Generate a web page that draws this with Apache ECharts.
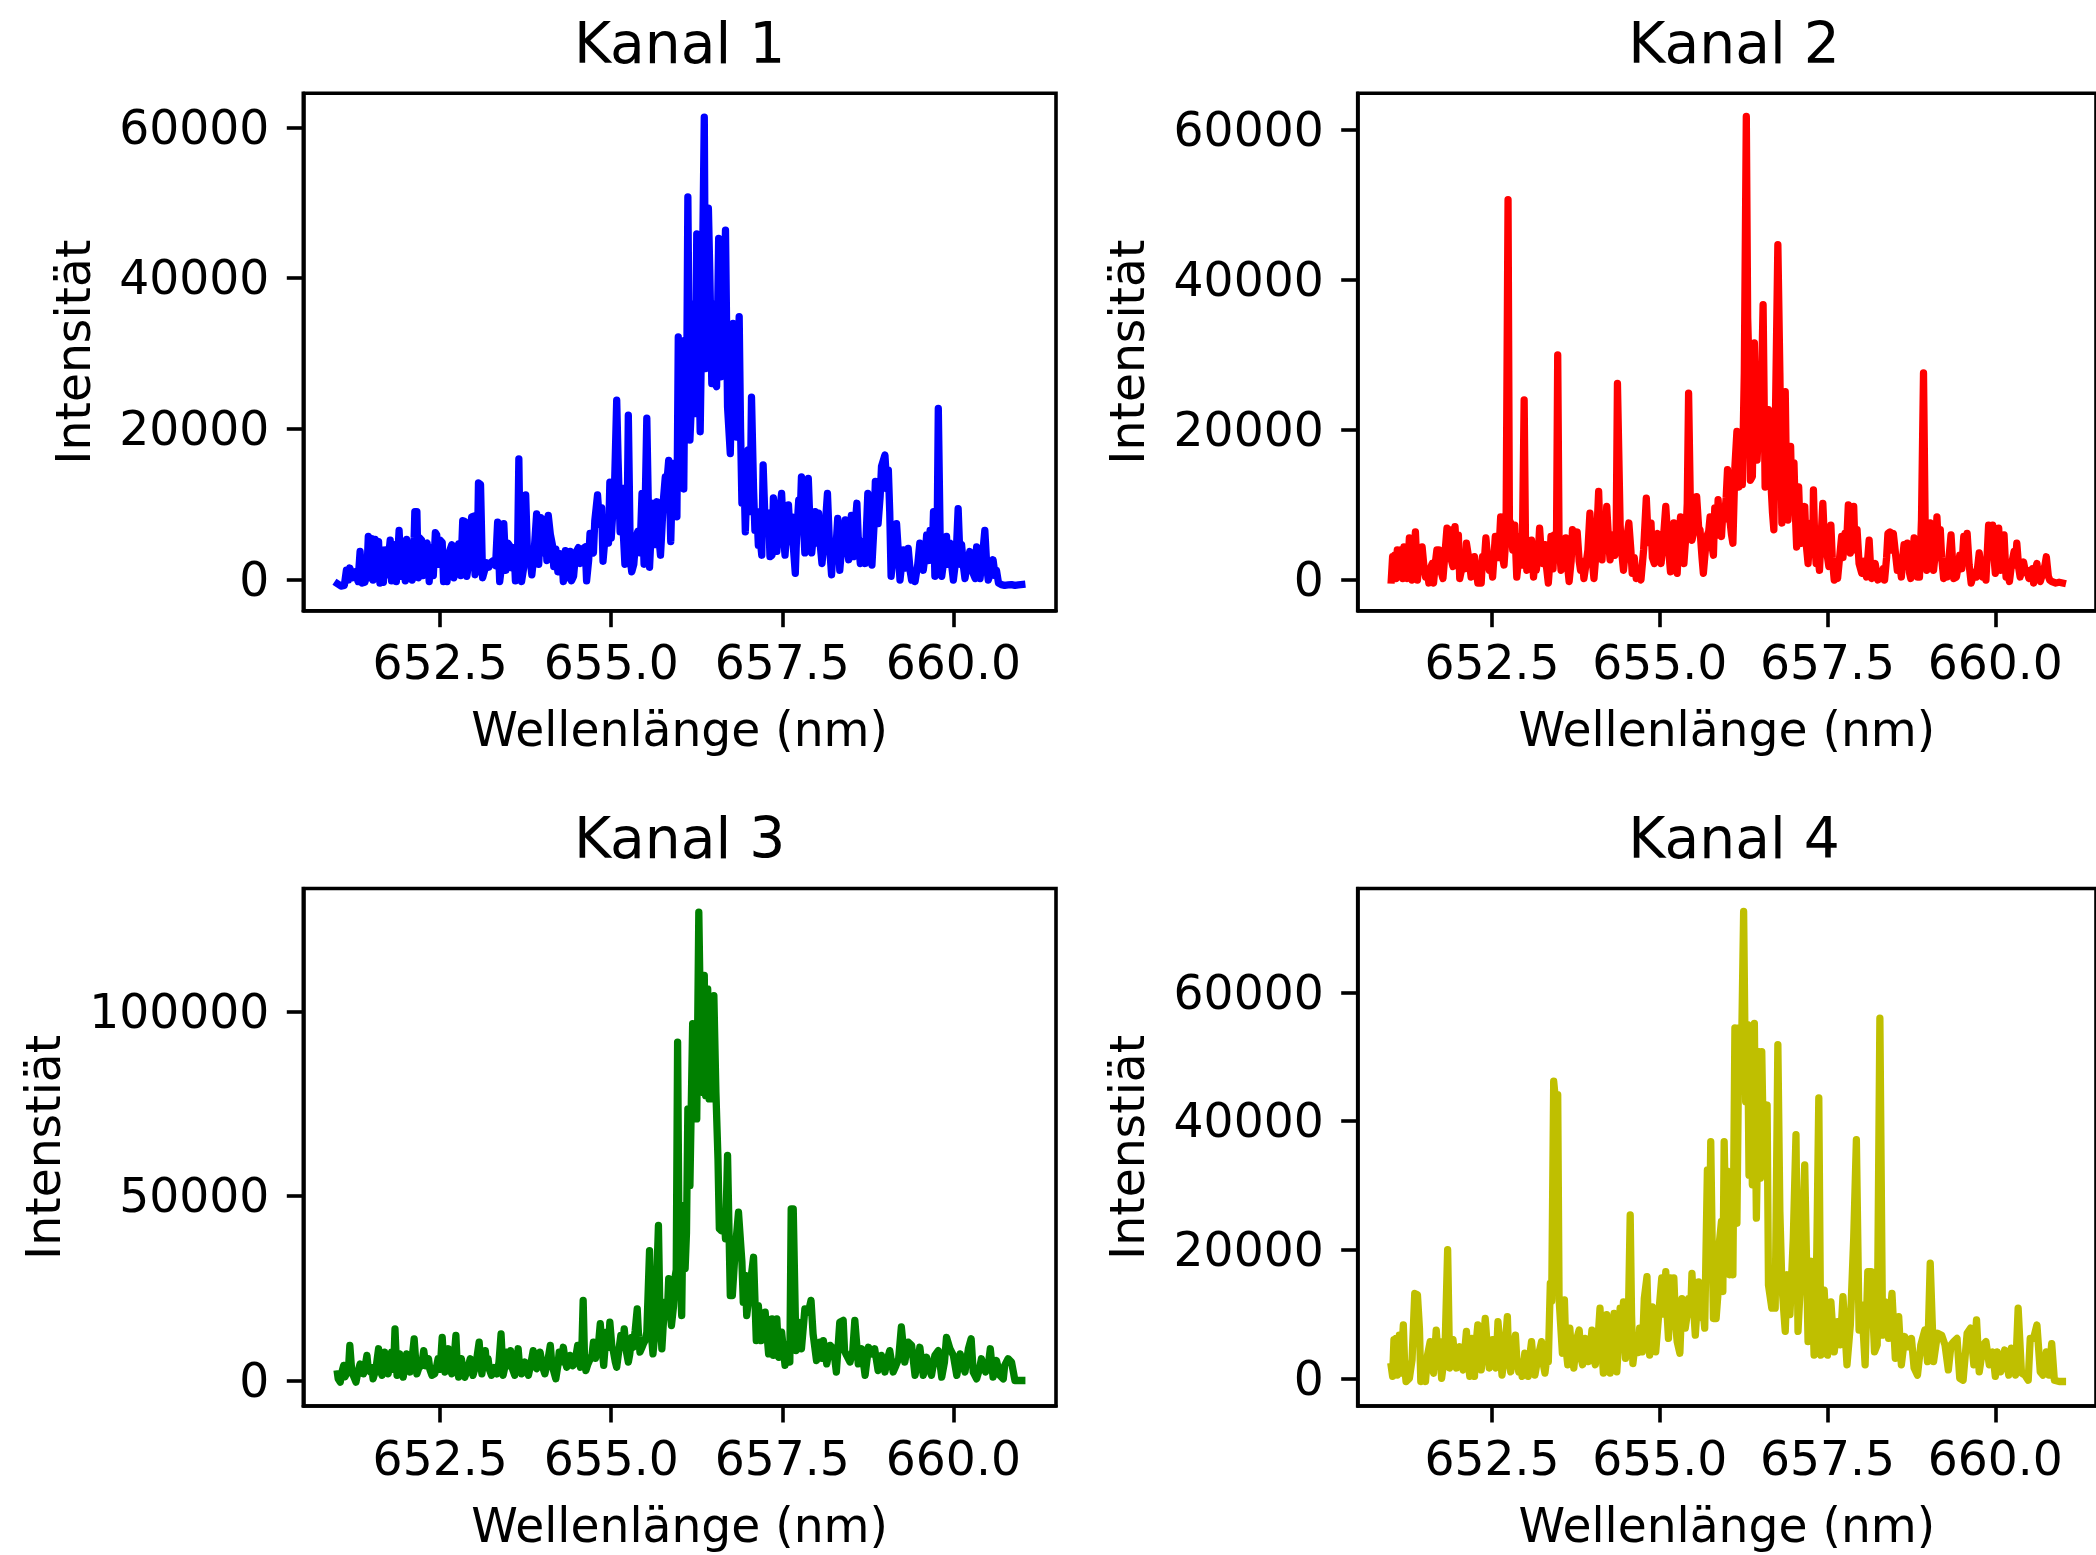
<!DOCTYPE html>
<html><head><meta charset="utf-8">
<script src="https://cdn.jsdelivr.net/npm/echarts@6/dist/echarts.min.js"></script>
<style>html,body{margin:0;padding:0;background:#fff}#c{width:2096px;height:1555px}</style>
</head><body><div id="c"></div>
<script>
// ---------- data ----------
const titles = ['Kanal 1', 'Kanal 2', 'Kanal 3', 'Kanal 4'];
const yNames = ['Intensität', 'Intensität', 'Intenstiät', 'Intenstiät'];
const xName = 'Wellenlänge (nm)';
const xTicks = [652.5, 655.0, 657.5, 660.0];
const yTicks1 = [0, 20000, 40000, 60000];
const yTicks2 = [0, 20000, 40000, 60000];
const yTicks3 = [0, 50000, 100000];
const yTicks4 = [0, 20000, 40000, 60000];

// [wavelength nm, intensity]
const kanal1 = [
[651.00,-600],[651.05,-900],[651.10,-800],[651.13,1200],[651.16,-100],[651.18,1500],[651.22,200],[651.26,1000],[651.30,-300],[651.33,3700],
[651.36,-500],[651.40,-400],[651.43,900],[651.45,5700],[651.48,200],[651.50,5400],[651.52,-100],[651.55,5300],[651.58,500],[651.60,5000],
[651.62,-500],[651.65,3900],[651.67,-400],[651.70,3900],[651.72,600],[651.77,5200],[651.79,-200],[651.84,4600],[651.86,-300],[651.90,6500],
[651.93,400],[651.96,3400],[651.99,-200],[652.01,5300],[652.04,200],[652.06,4800],[652.09,-100],[652.12,5500],[652.13,9000],[652.16,9000],
[652.18,200],[652.20,5500],[652.23,5200],[652.25,500],[652.28,4600],[652.31,4800],[652.34,-300],[652.37,4200],[652.40,500],[652.43,6200],
[652.45,5900],[652.48,2000],[652.50,5200],[652.53,4900],[652.55,-300],[652.58,1000],[652.60,-300],[652.64,3800],[652.67,4600],[652.70,200],
[652.74,3500],[652.77,4700],[652.80,500],[652.83,7800],[652.86,7700],[652.89,400],[652.93,3000],[652.96,8300],[652.99,8400],[653.01,600],
[653.04,1500],[653.06,12800],[653.09,12600],[653.12,200],[653.15,1200],[653.18,2200],[653.21,1600],[653.25,2300],[653.28,2500],[653.31,1800],
[653.34,7600],[653.37,-300],[653.40,2000],[653.43,7400],[653.46,1200],[653.49,4800],[653.52,4400],[653.55,1500],[653.58,4200],[653.60,-200],
[653.63,2500],[653.65,16000],[653.67,3200],[653.69,-300],[653.72,1500],[653.75,11200],[653.78,2200],[653.81,3000],[653.84,600],[653.87,3200],
[653.91,8700],[653.94,2000],[653.97,8200],[654.00,3500],[654.03,8000],[654.06,2500],[654.08,8500],[654.11,6000],[654.14,4600],[654.16,1700],
[654.19,4000],[654.22,1000],[654.25,3400],[654.28,3000],[654.30,-300],[654.33,3800],[654.36,200],[654.40,3700],[654.42,-200],[654.45,400],
[654.48,3500],[654.52,4200],[654.55,2100],[654.59,4100],[654.62,4300],[654.64,-200],[654.67,2500],[654.69,6100],[654.72,4000],[654.74,3500],
[654.76,7800],[654.78,9500],[654.80,11200],[654.83,7300],[654.86,9500],[654.88,2400],[654.91,5600],[654.93,6300],[654.96,4800],[654.98,12900],
[655.00,5500],[655.05,12900],[655.08,23800],[655.10,16000],[655.13,6300],[655.16,12100],[655.18,5500],[655.20,2000],[655.23,6000],[655.25,21800],
[655.28,2500],[655.30,1000],[655.33,2000],[655.36,5500],[655.39,6400],[655.42,3500],[655.45,11400],[655.48,2000],[655.52,21400],[655.54,11000],
[655.56,1600],[655.59,7500],[655.62,10100],[655.64,4600],[655.67,10300],[655.70,5200],[655.72,3200],[655.74,6500],[655.76,10300],[655.79,13600],
[655.81,12500],[655.84,15800],[655.87,5000],[655.90,15400],[655.93,12000],[655.96,8300],[655.98,32200],[656.01,15000],[656.03,20700],[656.06,12000],
[656.08,31800],[656.10,22000],[656.12,50800],[656.15,18500],[656.18,25000],[656.20,36600],[656.23,22000],[656.25,45900],[656.28,30000],[656.30,19600],
[656.33,38400],[656.36,61400],[656.38,28000],[656.40,30400],[656.42,49300],[656.44,41100],[656.47,26000],[656.49,36600],[656.52,26000],[656.54,25600],
[656.57,45300],[656.60,26900],[656.62,40000],[656.64,34000],[656.67,46400],[656.70,22900],[656.74,16700],[656.76,26000],[656.78,34000],[656.81,24000],
[656.83,18900],[656.87,34900],[656.89,20000],[656.91,10100],[656.94,14000],[656.96,6300],[657.00,17200],[657.03,9000],[657.05,24200],[657.08,12000],
[657.10,6500],[657.13,9000],[657.15,4500],[657.17,5900],[657.20,3200],[657.22,15200],[657.25,7000],[657.27,6500],[657.30,8800],[657.32,3000],
[657.35,3200],[657.37,10800],[657.40,6000],[657.42,3700],[657.45,8000],[657.49,11400],[657.52,5500],[657.54,3200],[657.57,7000],[657.59,9900],
[657.62,5000],[657.64,8300],[657.66,4500],[657.69,800],[657.71,6000],[657.74,10500],[657.76,8000],[657.78,13600],[657.81,7000],[657.83,3500],
[657.86,8000],[657.88,13400],[657.91,6000],[657.93,3500],[657.96,6500],[657.98,9000],[658.00,4800],[658.03,8800],[658.05,5000],[658.08,2100],
[658.10,4000],[658.12,6100],[658.16,11400],[658.19,4500],[658.22,600],[658.25,5000],[658.28,3500],[658.31,8100],[658.34,1200],[658.37,4500],
[658.39,6000],[658.42,7900],[658.45,4000],[658.47,2600],[658.51,8500],[658.54,3000],[658.56,6500],[658.59,10100],[658.61,5500],[658.64,2100],
[658.67,5000],[658.71,2100],[658.75,11400],[658.78,6000],[658.81,1900],[658.84,7000],[658.86,13000],[658.90,7400],[658.93,11000],[658.95,15000],
[659.00,16500],[659.03,12000],[659.05,14500],[659.07,9000],[659.09,400],[659.12,3000],[659.15,4000],[659.17,7400],[659.20,3000],[659.22,-100],
[659.25,2500],[659.27,3900],[659.30,1500],[659.34,4100],[659.37,1000],[659.39,-100],[659.42,1000],[659.44,-300],[659.48,2000],[659.51,4800],
[659.54,2000],[659.56,1200],[659.59,3500],[659.61,5900],[659.64,2500],[659.66,6500],[659.69,3000],[659.71,9000],[659.73,400],[659.76,3000],
[659.78,22700],[659.81,3500],[659.83,400],[659.86,2500],[659.90,5700],[659.92,2000],[659.95,4800],[659.98,1500],[660.00,-100],[660.04,3000],
[660.07,9400],[660.10,2000],[660.12,4600],[660.15,1500],[660.17,100],[660.21,2500],[660.24,3700],[660.28,1000],[660.32,100],[660.34,4300],
[660.37,1500],[660.39,100],[660.43,3500],[660.46,6500],[660.49,1500],[660.51,-100],[660.55,1000],[660.58,2600],[660.61,500],[660.63,1200],
[660.66,-500],[660.70,-700],[660.75,-800],[660.80,-750],[660.85,-700],[660.90,-800],[660.95,-750],[661.00,-700]
];

const kanal2 = [
[651.00,0],[651.02,3100],[651.04,300],[651.05,3300],[651.07,200],[651.09,4000],[651.12,1500],[651.14,4000],[651.17,200],[651.19,4400],
[651.22,1000],[651.24,200],[651.27,5600],[651.29,1500],[651.31,0],[651.34,3000],[651.36,6400],[651.39,0],[651.41,3000],[651.44,2200],
[651.46,4400],[651.49,1500],[651.51,400],[651.54,1000],[651.56,-400],[651.58,1500],[651.61,2200],[651.63,-400],[651.66,2500],[651.68,4000],
[651.71,4000],[651.73,1500],[651.77,200],[651.80,3500],[651.83,6900],[651.85,4500],[651.87,6700],[651.90,2500],[651.92,1800],[651.95,7100],
[651.97,4000],[652.00,6000],[652.02,200],[652.05,1500],[652.07,3600],[652.10,1500],[652.12,4900],[652.14,4900],[652.17,2000],[652.19,400],
[652.22,1500],[652.24,3100],[652.27,1000],[652.29,-400],[652.34,-400],[652.36,3100],[652.39,3000],[652.41,5600],[652.44,2500],[652.46,1300],
[652.49,2000],[652.51,400],[652.55,5800],[652.58,5800],[652.60,3000],[652.63,8400],[652.65,3500],[652.68,2000],[652.71,6000],[652.74,50700],
[652.76,8000],[652.78,7600],[652.81,4000],[652.84,7300],[652.87,400],[652.90,3000],[652.92,5800],[652.95,2000],[652.98,24000],[653.00,5000],
[653.02,1300],[653.05,3000],[653.07,3500],[653.09,5300],[653.12,400],[653.14,2500],[653.16,1300],[653.19,3500],[653.21,6900],[653.24,3000],
[653.26,2200],[653.29,4700],[653.31,2000],[653.34,-400],[653.36,2000],[653.38,5800],[653.41,1500],[653.43,6000],[653.46,3000],[653.48,30000],
[653.50,5000],[653.53,1300],[653.56,2000],[653.60,5600],[653.62,2500],[653.65,-200],[653.68,2500],[653.70,6700],[653.73,4000],[653.77,6400],
[653.80,2500],[653.82,1300],[653.85,2500],[653.87,200],[653.90,2000],[653.93,4000],[653.96,8900],[653.99,3000],[654.02,200],[654.05,3500],
[654.09,11800],[654.11,6000],[654.14,2700],[654.16,7000],[654.19,4000],[654.21,9800],[654.24,5000],[654.26,2700],[654.30,6000],[654.33,3300],
[654.35,5000],[654.37,26200],[654.41,7300],[654.43,4000],[654.46,1300],[654.50,5000],[654.54,7600],[654.57,4000],[654.59,900],[654.62,3000],
[654.65,200],[654.69,1000],[654.72,0],[654.76,4000],[654.80,10900],[654.83,5000],[654.87,7600],[654.89,3000],[654.92,2200],[654.94,5000],
[654.97,6200],[654.99,3500],[655.02,2200],[655.05,5000],[655.09,9800],[655.12,5500],[655.16,1100],[655.18,4000],[655.21,7600],[655.23,4000],
[655.26,900],[655.28,5000],[655.31,8400],[655.34,4500],[655.36,2200],[655.39,6000],[655.41,10200],[655.43,24900],[655.46,8000],[655.48,5300],
[655.52,7000],[655.55,11100],[655.58,7000],[655.60,6700],[655.63,3000],[655.65,900],[655.68,4000],[655.70,5800],[655.73,6500],[655.75,8400],
[655.77,5000],[655.80,3300],[655.82,9600],[655.85,6000],[655.87,10700],[655.89,7000],[655.92,5800],[655.94,9000],[655.96,8000],[655.99,11000],
[656.01,14700],[656.03,9000],[656.05,7600],[656.07,6000],[656.09,4900],[656.12,15100],[656.15,19800],[656.18,12400],[656.21,14000],[656.23,12700],
[656.26,27600],[656.29,61800],[656.31,35000],[656.33,28400],[656.35,13300],[656.38,13800],[656.41,31600],[656.43,20000],[656.45,16000],[656.48,22000],
[656.50,18700],[656.54,36700],[656.57,12400],[656.60,20000],[656.62,22700],[656.66,12400],[656.68,9000],[656.70,6700],[656.72,6700],[656.76,44700],
[656.79,27600],[656.82,7600],[656.84,18000],[656.87,25100],[656.89,12000],[656.91,8000],[656.95,17800],[656.97,10000],[657.00,15600],[657.02,9000],
[657.04,4400],[657.07,12400],[657.09,7000],[657.11,4900],[657.13,8000],[657.16,9800],[657.18,5000],[657.21,2200],[657.23,5000],[657.26,7600],
[657.28,4000],[657.29,12000],[657.31,5000],[657.33,2200],[657.36,3000],[657.38,1300],[657.40,5000],[657.43,10200],[657.45,6000],[657.47,6200],
[657.50,3000],[657.52,1800],[657.55,7300],[657.57,3000],[657.60,0],[657.62,1500],[657.65,200],[657.68,3000],[657.71,5800],[657.73,3000],
[657.76,6200],[657.78,4000],[657.81,10000],[657.84,3600],[657.86,5000],[657.89,9800],[657.91,4000],[657.94,6700],[657.97,2200],[658.01,900],
[658.04,2500],[658.08,400],[658.10,3000],[658.12,5300],[658.14,2000],[658.16,200],[658.19,1500],[658.21,2200],[658.25,0],[658.28,1000],
[658.30,200],[658.33,1500],[658.35,0],[658.38,3000],[658.40,6200],[658.43,6400],[658.45,4000],[658.48,6200],[658.50,6200],[658.54,1300],
[658.57,2500],[658.60,400],[658.62,3000],[658.64,4700],[658.67,2000],[658.69,4900],[658.72,1000],[658.74,200],[658.77,3000],[658.79,5600],
[658.82,2000],[658.84,400],[658.87,400],[658.90,8000],[658.93,27600],[658.96,3000],[658.98,1300],[659.01,4000],[659.03,7600],[659.06,3000],
[659.08,1300],[659.11,4000],[659.13,8400],[659.16,3000],[659.18,6700],[659.20,3000],[659.23,200],[659.25,2000],[659.28,400],[659.31,3000],
[659.34,6000],[659.36,3000],[659.38,200],[659.42,400],[659.45,2000],[659.47,3300],[659.50,1500],[659.53,5800],[659.55,3000],[659.58,6200],
[659.61,2000],[659.64,-400],[659.68,1000],[659.72,400],[659.74,2000],[659.76,3600],[659.79,1500],[659.81,400],[659.84,2000],[659.86,0],
[659.90,7300],[659.93,4000],[659.96,7300],[659.98,3000],[660.00,900],[660.02,2500],[660.05,6900],[660.08,1300],[660.10,3500],[660.13,6000],
[660.16,400],[660.18,1000],[660.21,-200],[660.24,2000],[660.28,3800],[660.30,2000],[660.32,4900],[660.35,1500],[660.37,400],[660.40,2000],
[660.42,2400],[660.45,1000],[660.47,1300],[660.50,200],[660.52,400],[660.55,1500],[660.57,-400],[660.60,1500],[660.62,2200],[660.64,500],
[660.67,-200],[660.70,700],[660.72,700],[660.74,2000],[660.76,3100],[660.79,500],[660.81,0],[660.84,-200],[660.86,-400],[660.90,-400],
[660.95,-300],[661.00,-400]
];

const kanal3 = [
[651.00,1800],[651.01,450],[651.04,-450],[651.06,2000],[651.09,4100],[651.11,1000],[651.13,900],[651.16,3000],[651.18,9500],[651.21,2000],
[651.23,1400],[651.27,-450],[651.30,2500],[651.33,4500],[651.35,2000],[651.38,1800],[651.40,3500],[651.43,6800],[651.45,3000],[651.48,2300],
[651.50,3500],[651.52,450],[651.56,3000],[651.60,8600],[651.62,3000],[651.65,1400],[651.67,5000],[651.69,7700],[651.72,3000],[651.74,1800],
[651.77,5500],[651.79,7700],[651.82,3000],[651.84,14000],[651.86,5000],[651.87,1400],[651.89,5000],[651.91,7200],[651.94,3500],[651.96,900],
[651.99,5000],[652.01,7200],[652.04,4000],[652.06,2300],[652.09,6000],[652.12,11300],[652.14,6000],[652.16,1800],[652.19,3500],[652.23,4100],
[652.26,8100],[652.29,4000],[652.33,5900],[652.35,3000],[652.38,1400],[652.42,1800],[652.45,4000],[652.47,5900],[652.50,3000],[652.53,11700],
[652.55,5000],[652.57,2300],[652.60,5000],[652.62,8600],[652.64,3500],[652.67,1800],[652.70,5000],[652.73,12200],[652.75,4000],[652.77,900],
[652.79,3500],[652.81,5900],[652.84,2000],[652.86,900],[652.90,3000],[652.94,5900],[652.96,3000],[652.98,1400],[653.02,4000],[653.07,10400],
[653.09,5000],[653.11,1800],[653.13,5000],[653.16,8100],[653.18,3500],[653.20,5900],[653.22,3000],[653.25,1400],[653.29,3500],[653.33,1800],
[653.36,5000],[653.39,12600],[653.41,5000],[653.42,1400],[653.45,4000],[653.47,7700],[653.50,4000],[653.53,8100],[653.56,3000],[653.59,1400],
[653.62,5000],[653.64,8600],[653.66,4000],[653.69,1800],[653.72,4000],[653.74,5000],[653.77,2500],[653.79,1400],[653.82,4000],[653.86,8100],
[653.88,4000],[653.91,3200],[653.94,5000],[653.96,7700],[654.00,3500],[654.03,1800],[654.07,5000],[654.11,9500],[654.13,5000],[654.15,3200],
[654.19,450],[654.22,4000],[654.24,7700],[654.27,5000],[654.30,9000],[654.33,5000],[654.35,3600],[654.38,5000],[654.40,6800],[654.44,4000],
[654.47,5000],[654.51,9500],[654.53,5500],[654.55,3600],[654.57,8000],[654.59,21700],[654.61,6000],[654.63,2700],[654.66,4500],[654.68,5000],
[654.72,7000],[654.74,10400],[654.77,6000],[654.79,7700],[654.81,9000],[654.84,15400],[654.87,8000],[654.89,4100],[654.91,9000],[654.93,13100],
[654.96,9000],[654.98,15800],[655.01,9000],[655.03,8100],[655.06,5000],[655.08,3600],[655.11,8000],[655.14,12200],[655.17,9000],[655.19,14000],
[655.22,8000],[655.25,5000],[655.27,7000],[655.30,11700],[655.32,9000],[655.35,13500],[655.38,19400],[655.40,12000],[655.42,7700],[655.45,9000],
[655.47,9900],[655.50,11000],[655.52,13100],[655.56,35200],[655.58,14000],[655.61,7200],[655.64,13100],[655.69,42000],[655.71,20000],[655.74,8600],
[655.76,15000],[655.79,21200],[655.82,18000],[655.84,27600],[655.86,20000],[655.88,14900],[655.91,20000],[655.93,27600],[655.95,30000],[655.97,91700],
[655.99,40000],[656.01,27600],[656.03,17600],[656.05,47400],[656.08,30300],[656.10,40000],[656.12,73600],[656.15,52800],[656.19,96700],[656.22,70900],
[656.25,70900],[656.28,126900],[656.32,78100],[656.36,109800],[656.38,77200],[656.41,106100],[656.43,76300],[656.47,76300],[656.50,104300],[656.53,78100],
[656.56,60100],[656.58,41100],[656.61,40600],[656.65,45600],[656.67,38400],[656.70,61000],[656.74,23000],[656.77,23000],[656.81,34800],[656.86,45600],
[656.91,32100],[656.93,21200],[656.96,28500],[656.98,17600],[657.03,25700],[657.08,33400],[657.12,10800],[657.15,20300],[657.19,10800],[657.25,18500],
[657.30,7200],[657.35,16700],[657.37,6800],[657.42,16700],[657.45,6300],[657.49,13100],[657.54,4100],[657.59,9900],[657.61,5000],[657.63,46500],
[657.66,46500],[657.70,8100],[657.73,15800],[657.78,8600],[657.83,19400],[657.88,18500],[657.92,21700],[657.95,12600],[658.00,5400],[658.05,10400],
[658.08,6000],[658.10,10800],[658.15,4500],[658.20,9500],[658.25,8600],[658.29,2300],[658.34,15800],[658.39,16300],[658.41,8000],[658.44,6800],
[658.49,5000],[658.53,8000],[658.56,16300],[658.61,4500],[658.66,8600],[658.71,1400],[658.76,9000],[658.81,7200],[658.85,8600],[658.90,2700],
[658.95,6800],[659.00,2300],[659.04,6000],[659.07,8100],[659.12,2300],[659.16,4000],[659.20,5900],[659.24,14500],[659.29,5000],[659.34,10400],
[659.39,9500],[659.44,1400],[659.48,5000],[659.51,9000],[659.56,1400],[659.61,6300],[659.65,3000],[659.68,1400],[659.73,6800],[659.78,8100],
[659.83,900],[659.87,5000],[659.90,11700],[659.95,8600],[660.00,6800],[660.05,1400],[660.10,7200],[660.14,4000],[660.17,2300],[660.22,8600],
[660.26,11300],[660.29,2300],[660.34,450],[660.38,3000],[660.41,5900],[660.47,2300],[660.51,4000],[660.54,8600],[660.58,900],[660.63,5400],
[660.68,1400],[660.73,450],[660.75,4100],[660.80,5900],[660.85,5000],[660.90,0],[660.95,0],[661.00,0]
];

const kanal4 = [
[651.00,1800],[651.02,300],[651.04,6000],[651.06,2000],[651.07,6200],[651.09,500],[651.12,6700],[651.14,800],[651.18,8300],[651.20,2000],
[651.22,-500],[651.27,0],[651.31,2900],[651.35,13200],[651.39,13000],[651.42,7800],[651.44,-500],[651.48,1600],[651.51,-500],[651.54,3600],
[651.58,5700],[651.60,2000],[651.63,800],[651.67,7500],[651.70,3000],[651.72,5700],[651.75,0],[651.80,4100],[651.84,20000],[651.87,1600],
[651.90,4000],[651.92,6000],[651.95,2500],[651.97,1600],[652.00,4000],[652.02,4900],[652.05,2000],[652.07,1300],[652.12,7300],[652.14,3000],
[652.17,300],[652.20,6200],[652.22,3000],[652.24,300],[652.26,5000],[652.29,8300],[652.31,5000],[652.34,1300],[652.37,5000],[652.40,9300],
[652.43,5000],[652.46,1600],[652.49,4000],[652.51,6000],[652.53,3000],[652.56,1600],[652.59,8800],[652.62,5000],[652.65,500],[652.69,4000],
[652.73,9600],[652.75,3000],[652.78,1000],[652.81,4000],[652.85,6700],[652.87,3000],[652.90,1000],[652.92,2500],[652.95,300],[652.99,3900],
[653.02,2000],[653.04,300],[653.07,4000],[653.09,5700],[653.12,2000],[653.14,500],[653.19,3500],[653.24,5700],[653.26,2500],[653.29,800],
[653.31,2600],[653.34,2600],[653.37,14800],[653.39,12000],[653.42,46200],[653.44,44000],[653.46,20000],[653.48,44100],[653.50,12400],[653.52,12400],
[653.55,3900],[653.58,12200],[653.60,5000],[653.63,2100],[653.66,7800],[653.68,5000],[653.72,1600],[653.76,6000],[653.80,7500],[653.83,3000],
[653.85,2100],[653.89,6200],[653.92,5000],[653.94,2600],[653.97,5000],[653.99,7500],[654.02,3000],[654.04,2100],[654.08,6000],[654.11,10900],
[654.13,6000],[654.16,800],[654.19,5000],[654.21,9900],[654.24,5000],[654.26,800],[654.29,5000],[654.32,10100],[654.34,5000],[654.36,1000],
[654.39,6000],[654.41,10900],[654.44,8000],[654.46,11900],[654.49,3100],[654.51,5000],[654.53,7800],[654.56,25400],[654.58,10000],[654.60,2300],
[654.63,5000],[654.65,6200],[654.68,4000],[654.70,7800],[654.74,4100],[654.77,12400],[654.81,15800],[654.83,8000],[654.85,3600],[654.87,8000],
[654.89,11100],[654.92,6000],[654.94,4100],[654.97,8000],[654.99,10600],[655.03,15600],[655.06,10000],[655.09,16600],[655.11,10000],[655.13,6200],
[655.16,15600],[655.19,10000],[655.21,15600],[655.24,8000],[655.26,5700],[655.30,3900],[655.33,12400],[655.36,10000],[655.38,7800],[655.41,10000],
[655.43,12400],[655.46,10000],[655.48,16300],[655.51,10000],[655.53,6700],[655.55,10000],[655.58,15000],[655.60,10000],[655.62,10100],[655.66,9000],
[655.67,7800],[655.71,32400],[655.74,20000],[655.76,36800],[655.79,15000],[655.80,9300],[655.84,9300],[655.87,13500],[655.89,21300],[655.92,24400],
[655.94,13500],[655.96,36800],[655.99,20700],[656.01,32200],[656.04,16100],[656.06,23900],[656.09,16100],[656.12,54500],[656.15,24100],[656.18,54500],
[656.21,44600],[656.25,72600],[656.28,43000],[656.31,55000],[656.33,31600],[656.35,53900],[656.38,30100],[656.41,55200],[656.44,24900],[656.48,50800],
[656.50,31100],[656.52,50800],[656.55,32200],[656.60,42500],[656.62,14500],[656.67,10900],[656.72,10900],[656.76,51900],[656.79,25900],[656.82,14500],
[656.87,7300],[656.90,16100],[656.94,9900],[656.99,21800],[657.03,37900],[657.06,7300],[657.11,17600],[657.16,33200],[657.21,5700],[657.26,18200],
[657.30,3600],[657.34,19700],[657.37,43600],[657.40,3600],[657.45,13700],[657.50,3600],[657.55,11900],[657.60,4100],[657.65,8800],[657.69,5200],
[657.73,12700],[657.79,2100],[657.84,8300],[657.89,21800],[657.93,37100],[657.97,7500],[658.01,11400],[658.06,2100],[658.10,16600],[658.15,16600],
[658.20,4100],[658.24,5200],[658.28,56000],[658.32,6700],[658.36,11900],[658.41,6200],[658.46,13200],[658.51,3100],[658.56,9600],[658.60,2100],
[658.65,6500],[658.70,4900],[658.75,6200],[658.79,1600],[658.84,500],[658.89,5200],[658.95,7500],[658.99,2600],[659.03,17900],[659.08,2600],
[659.14,7000],[659.20,6700],[659.25,5200],[659.30,1300],[659.34,5200],[659.38,5700],[659.43,6200],[659.47,0],[659.52,-300],[659.58,7000],
[659.63,7800],[659.68,2100],[659.72,9100],[659.76,1000],[659.82,5200],[659.86,5700],[659.91,2100],[659.96,4100],[660.00,300],[660.03,4100],
[660.08,1000],[660.14,4400],[660.20,500],[660.24,4700],[660.30,500],[660.34,10900],[660.39,800],[660.44,500],[660.49,-300],[660.52,6200],
[660.57,6200],[660.62,8300],[660.67,1000],[660.71,500],[660.76,4100],[660.80,500],[660.84,5400],[660.88,-300],[660.95,-500],[661.00,-500]
];

// ---------- layout / style ----------
const FONT = 'DejaVu Sans';
const colors = ['#0000ff', '#ff0000', '#008000', '#bfbf00'];
const datasets = [kanal1, kanal2, kanal3, kanal4];
const yTickSets = [yTicks1, yTicks2, yTicks3, yTicks4];
const yRanges = [[-4172, 64570], [-4093, 64893], [-6911, 133333], [-4308, 76174]];
const xRange = [650.5, 661.5];
const grids = [
  {left: 303.3, top: 93.3, width: 752.7, height: 517.4},
  {left: 1357.7, top: 93.3, width: 752.7, height: 517.4},
  {left: 303.3, top: 888.5, width: 752.7, height: 517.5},
  {left: 1357.7, top: 888.5, width: 752.7, height: 517.5}
];
const yNameGaps = [202, 202, 232, 202];
const LBL = 47.2, TTL = 56.7, LW = 7.3, SP = 3.6, TL = 16.5;

const chart = echarts.init(document.getElementById('c'), null, {renderer: 'canvas'});
const option = {
  animation: false,
  backgroundColor: '#ffffff',
  grid: grids.map(g => Object.assign({show: true, borderColor: '#000', borderWidth: SP, backgroundColor: 'transparent', containLabel: false}, g)),
  xAxis: grids.map((g, i) => ({
    gridIndex: i, type: 'value', min: xRange[0], max: xRange[1],
    axisLine: {show: true, onZero: false, lineStyle: {color: '#000', width: SP}},
    axisTick: {show: true, length: TL, lineStyle: {color: '#000', width: SP}, customValues: xTicks},
    axisLabel: {show: true, customValues: xTicks, formatter: v => Number(v).toFixed(1), margin: 33,
      fontSize: LBL, fontFamily: FONT, color: '#000'},
    splitLine: {show: false},
    name: xName, nameLocation: 'middle', nameGap: 100,
    nameTextStyle: {fontSize: LBL, fontFamily: FONT, color: '#000'}
  })),
  yAxis: grids.map((g, i) => ({
    gridIndex: i, type: 'value', min: yRanges[i][0], max: yRanges[i][1],
    axisLine: {show: true, onZero: false, lineStyle: {color: '#000', width: SP}},
    axisTick: {show: true, length: TL, lineStyle: {color: '#000', width: SP}, customValues: yTickSets[i]},
    axisLabel: {show: true, customValues: yTickSets[i], formatter: v => String(v), margin: 34,
      verticalAlign: 'top', lineHeight: 8,
      fontSize: LBL, fontFamily: FONT, color: '#000'},
    splitLine: {show: false},
    name: yNames[i], nameLocation: 'middle', nameGap: yNameGaps[i],
    nameTextStyle: {fontSize: LBL, fontFamily: FONT, color: '#000'}
  })),
  graphic: titles.map((t, i) => ({
    type: 'text',
    x: grids[i].left + grids[i].width / 2,
    y: grids[i].top - 45.5,
    style: {text: t, fontSize: TTL, fontFamily: FONT, fill: '#000',
      align: 'center', verticalAlign: 'middle', textAlign: 'center', textVerticalAlign: 'middle'}
  })),
  series: datasets.map((d, i) => ({
    type: 'line', xAxisIndex: i, yAxisIndex: i, data: d,
    showSymbol: false, symbol: 'none', silent: true, clip: true,
    lineStyle: {color: colors[i], width: LW, join: 'round', cap: 'square'}
  }))
};
chart.setOption(option);
</script>
</body></html>
